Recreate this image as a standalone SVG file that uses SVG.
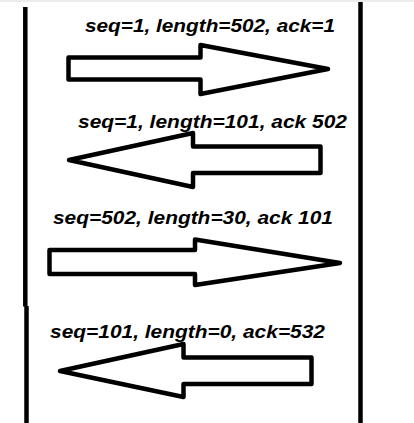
<svg xmlns="http://www.w3.org/2000/svg" width="414" height="423" viewBox="0 0 414 423">
<style>
.lbl{font-family:"Liberation Sans",Arial,sans-serif;font-weight:bold;font-style:italic;font-size:19px;fill:#000}
.arr{fill:#fff;stroke:#000;stroke-width:4.5;stroke-linejoin:round}
.life{stroke:#000;stroke-width:4.5;fill:none}
</style>
<rect x="0" y="0" width="414" height="423" fill="#fff"/>
<rect x="0" y="0" width="414" height="2" fill="#ececec"/>
<g id="lifelines">
<line class="life" x1="25.3" y1="7" x2="25.3" y2="306.5"/>
<line class="life" x1="26.5" y1="306" x2="26.5" y2="423"/>
<line class="life" x1="360.5" y1="2" x2="360.5" y2="423"/>
</g>
<g id="connectors">
<g id="msg1">
<polygon class="arr" points="68.5,57.5 200.5,57.5 200.5,45 328,69 200.5,94 200.5,79.5 68.5,79.5"/>
<text class="lbl" x="85" y="32" textLength="250" lengthAdjust="spacingAndGlyphs">seq=1, length=502, ack=1</text>
</g>
<g id="msg2">
<polygon class="arr" points="320.5,146.5 193,146.5 193,133 69,160 193,187 193,173 320.5,173"/>
<text class="lbl" x="78" y="128" textLength="269" lengthAdjust="spacingAndGlyphs">seq=1, length=101, ack 502</text>
</g>
<g id="msg3">
<polygon class="arr" points="49.5,250 195,250 195,239.5 340,263 195,285 195,274 49.5,274"/>
<text class="lbl" x="53" y="224" textLength="280" lengthAdjust="spacingAndGlyphs">seq=502, length=30, ack 101</text>
</g>
<g id="msg4">
<polygon class="arr" points="311.5,357.5 183.5,357.5 183.5,344 60,371 183.5,397 183.5,384 311.5,384"/>
<text class="lbl" x="50" y="338" textLength="275" lengthAdjust="spacingAndGlyphs">seq=101, length=0, ack=532</text>
</g>
</g>
</svg>
